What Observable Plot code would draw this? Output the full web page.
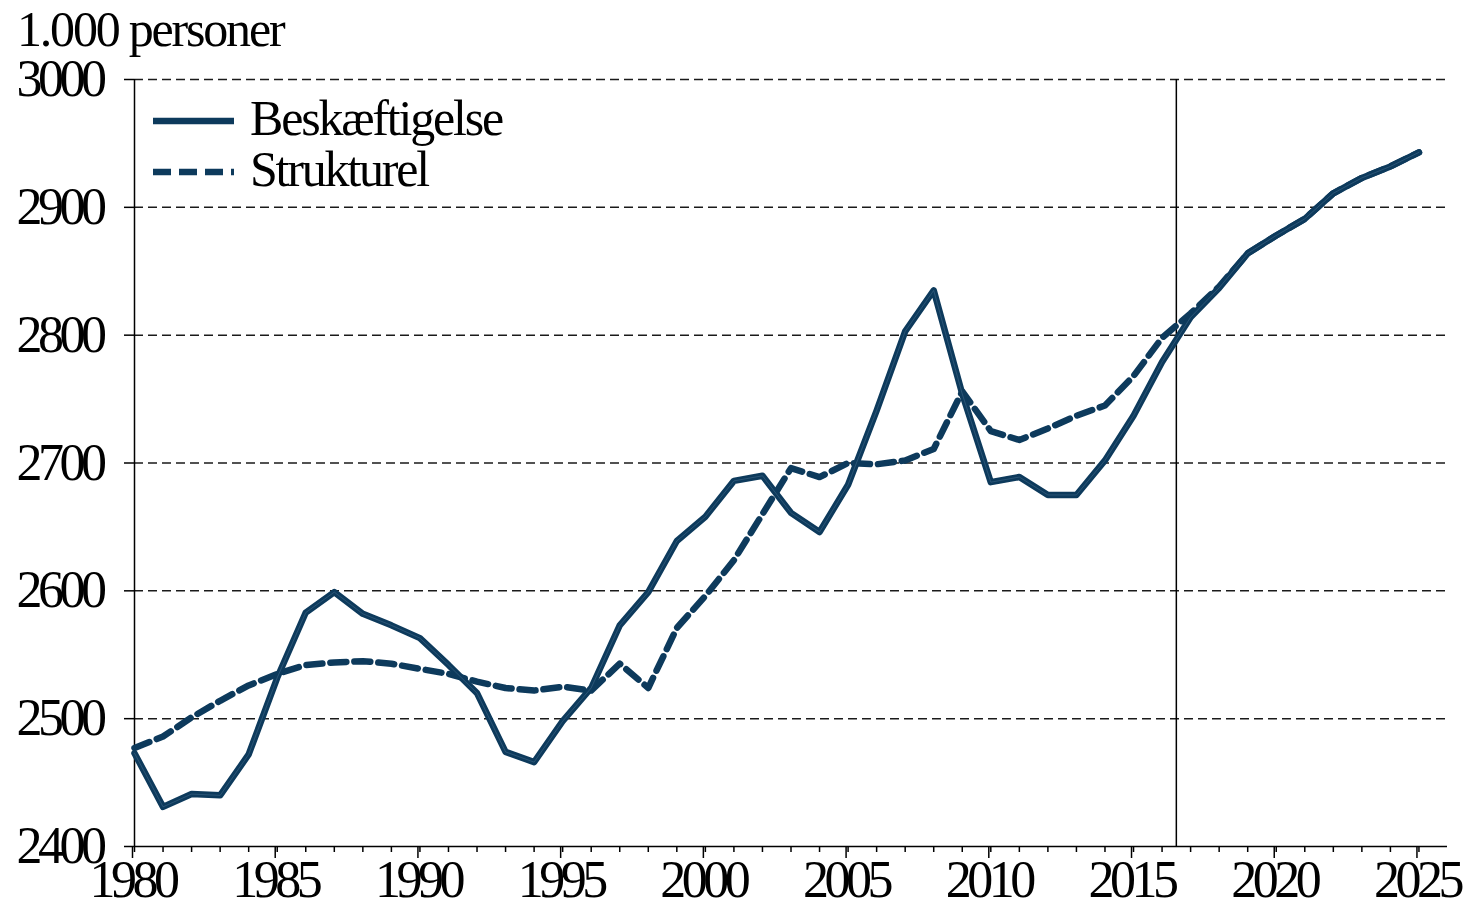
<!DOCTYPE html>
<html>
<head>
<meta charset="utf-8">
<script src="https://cdn.jsdelivr.net/npm/d3@7"></script>
<script src="https://cdn.jsdelivr.net/npm/@observablehq/plot@0.6"></script>
<style>
  html, body { margin: 0; padding: 0; background: #fff; }
  #wrap { position: relative; width: 1468px; height: 906px; font-family: "Liberation Serif", "Times New Roman", serif; }
  #wrap > svg { position: absolute; left: 0; top: 0; }
</style>
</head>
<body>
<div id="wrap"></div>
<script>
const years = [1980,1981,1982,1983,1984,1985,1986,1987,1988,1989,
               1990,1991,1992,1993,1994,1995,1996,1997,1998,1999,
               2000,2001,2002,2003,2004,2005,2006,2007,2008,2009,
               2010,2011,2012,2013,2014,2015,2016,2017,2018,2019,
               2020,2021,2022,2023,2024,2025];
const beskaeftigelse = [2473,2431,2441,2440,2472,2532,2583,2599,2582,2573,
                        2563,2542,2520,2474,2466,2498,2524,2573,2599,2639,
                        2658,2686,2690,2661,2646,2683,2741,2803,2835,2754,
                        2685,2689,2675,2675,2702,2737,2779,2814,2837,2864,
                        2878,2891,2911,2923,2932,2943];
const strukturel = [2477,2486,2501,2514,2526,2535,2542,2544,2545,2543,
                    2539,2535,2529,2524,2522,2525,2522,2543,2524,2571,
                    2596,2624,2660,2696,2689,2700,2699,2702,2711,2756,
                    2725,2718,2727,2737,2745,2768,2798,2817,2838,2864,
                    2878,2891,2911,2923,2932,2943];
const yTicks = [2400,2500,2600,2700,2800,2900,3000];
const majorYears = [1980,1985,1990,1995,2000,2005,2010,2015,2020,2025];
const forecastStart = [2016.5];
const seriesNames = ["Beskæftigelse", "Strukturel"];
const titleText = "1.000 personer";

const color = "#0d3a5c";
const font = '"Liberation Serif", "Times New Roman", serif';

const dataB = years.map((y, i) => ({year: y, value: beskaeftigelse[i]}));
const dataS = years.map((y, i) => ({year: y, value: strukturel[i]}));

const chart = Plot.plot({
  width: 1468,
  height: 906,
  marginTop: 79,
  marginLeft: 134,
  marginRight: 21,
  marginBottom: 60,
  style: {fontFamily: font, fontSize: "52px", background: "#fff", color: "#000", overflow: "visible"},
  x: {domain: [1980, 2026], label: null},
  y: {domain: [2400, 3000], label: null},
  marks: [
    Plot.ruleY(yTicks.filter(d => d > 2400), {stroke: "#1a1a1a", strokeWidth: 1.5, strokeDasharray: "9,5"}),
    Plot.axisY({ticks: yTicks, tickSize: 10, tickPadding: 22, tickFormat: d => String(d), strokeWidth: 1.5, label: null}),
    Plot.axisX({ticks: years, tickSize: 6, tickFormat: () => "", strokeWidth: 1.5, label: null}),
    Plot.axisX({ticks: majorYears, tickSize: 12, tickPadding: 2, tickFormat: d => String(d), strokeWidth: 1.5, label: null, dx: -2}),
    Plot.ruleX([1980], {stroke: "#000", strokeWidth: 1.5}),
    Plot.ruleY([2400], {stroke: "#000", strokeWidth: 1.5}),
    Plot.ruleX(forecastStart, {stroke: "#000", strokeWidth: 1.5}),
    Plot.lineY(dataS, {x: "year", y: "value", stroke: color, strokeWidth: 6.5, strokeDasharray: "16,8"}),
    Plot.lineY(dataB, {x: "year", y: "value", stroke: color, strokeWidth: 6.5}),
    Plot.lineY(dataB, {x: "year", y: "value", stroke: "#5f84a3", strokeWidth: 0.7, strokeOpacity: 0.5})
  ]
});
// condense tick labels like the reference's narrow serif digits
d3.select(chart).selectAll("text").style("letter-spacing", "-4.5px");
document.getElementById("wrap").appendChild(chart);

// Title and legend overlay
const overlay = d3.select("#wrap").append("svg")
  .attr("width", 1468).attr("height", 906)
  .style("pointer-events", "none")
  .style("font-family", font);

overlay.append("text")
  .attr("x", 17).attr("y", 46)
  .attr("font-size", 50)
  .style("letter-spacing", "-2.2px")
  .text(titleText);

const legend = overlay.append("g");
const items = [
  {name: seriesNames[0], dash: null, y: 121},
  {name: seriesNames[1], dash: "18,8", y: 172}
];
items.forEach(it => {
  legend.append("line")
    .attr("x1", 153).attr("x2", 234)
    .attr("y1", it.y).attr("y2", it.y)
    .attr("stroke", color).attr("stroke-width", 6.5)
    .attr("stroke-dasharray", it.dash);
  legend.append("text")
    .attr("x", 250).attr("y", it.y + 14)
    .attr("font-size", 50)
    .style("letter-spacing", "-2.2px")
    .text(it.name);
});
</script>
</body>
</html>
